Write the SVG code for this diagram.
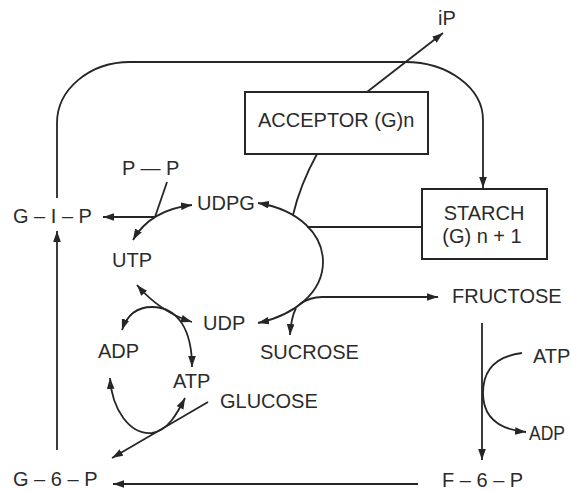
<svg xmlns="http://www.w3.org/2000/svg" width="571" height="491" viewBox="0 0 571 491">
<defs>
<style>
.t{font-family:"Liberation Sans",Arial,Helvetica,sans-serif;font-size:20px;fill:#2b2b2b}
.c{fill:none;stroke:#262626;stroke-width:1.8}
.b{fill:#fff;stroke:#262626;stroke-width:2}
.a{marker-end:url(#ah)}
.d{marker-start:url(#ah);marker-end:url(#ah)}
</style>
<marker id="ah" viewBox="0 0 10 7" refX="10" refY="3.5" markerWidth="11" markerHeight="7.7" markerUnits="userSpaceOnUse" orient="auto-start-reverse">
<path d="M0,0 L10,3.5 L0,7 z" fill="#262626"/>
</marker>
</defs>
<rect width="571" height="491" fill="#fff"/>
<g id="connectors">
<path class="c a" d="M57,198 L57,123 A73,61 0 0 1 130,62 L405,62 A78,58 0 0 1 483,120 L483,188"/>
<path class="c a" d="M57,450 L57,231"/>
<path class="c a" d="M418,484 L113,484"/>
<path class="c a" d="M482,323 L482,460"/>
<path class="c a" d="M522,353 Q483,358 483,393 Q483,428 526,432"/>
<path class="c a" d="M367,92 L443,33"/>
<path class="c" d="M317,154 Q300,185 293,215"/>
<path class="c d" d="M258,203 C300,210 323,235 323,262 C323,292 295,315 258,323"/>
<path class="c" d="M307,227 L422,227"/>
<path class="c a" d="M300,304 Q310,297 322,297 L438,297"/>
<path class="c a" d="M296,308 Q291,318 290,335"/>
<path class="c d" d="M133,240 Q150,210 192,205"/>
<path class="c" d="M167,182 L155,217"/>
<path class="c a" d="M155,217 L103,217"/>
<path class="c d" d="M137,285 Q160,312 192,322"/>
<path class="c d" d="M122,330 C128,312 140,307 152,307 C178,307 192,330 192,367"/>
<path class="c d" d="M110,378 C112,410 130,435 152,433 C168,431 178,412 185,398"/>
<path class="c a" d="M208,402 L112,458"/>
</g>
<g id="acceptor">
<rect class="b" x="245" y="92" width="183" height="62"/>
<text class="t" x="258" y="127">ACCEPTOR (G)n</text>
</g>
<g id="starch">
<rect class="b" x="422" y="189" width="125" height="70"/>
<text class="t" x="484" y="220" text-anchor="middle">STARCH</text>
<text class="t" x="482" y="243" text-anchor="middle">(G) n + 1</text>
</g>
<g id="ip"><text class="t" x="438" y="25">iP</text></g>
<g id="pp"><text class="t" x="122" y="175">P — P</text></g>
<g id="udpg"><text class="t" x="197" y="210">UDPG</text></g>
<g id="g1p"><text class="t" x="13" y="223">G – I – P</text></g>
<g id="utp"><text class="t" x="112" y="267">UTP</text></g>
<g id="udp"><text class="t" x="203" y="330">UDP</text></g>
<g id="adp"><text class="t" x="98" y="358">ADP</text></g>
<g id="sucrose"><text class="t" x="260" y="359">SUCROSE</text></g>
<g id="atp"><text class="t" x="173" y="388">ATP</text></g>
<g id="glucose"><text class="t" x="220" y="408">GLUCOSE</text></g>
<g id="fructose"><text class="t" x="452" y="303">FRUCTOSE</text></g>
<g id="atp2"><text class="t" x="533" y="363">ATP</text></g>
<g id="adp2"><text class="t" x="529" y="440" textLength="36" lengthAdjust="spacingAndGlyphs">ADP</text></g>
<g id="g6p"><text class="t" x="13" y="486">G – 6 – P</text></g>
<g id="f6p"><text class="t" x="442" y="487">F – 6 – P</text></g>
</svg>
